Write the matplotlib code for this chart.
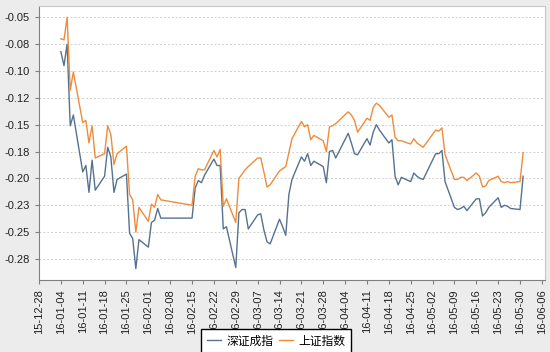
import matplotlib
matplotlib.use("Agg")
import matplotlib.pyplot as plt
import matplotlib.dates as mdates
import pandas as pd

# 交易日
dates = pd.to_datetime(
    ["2016-01-%02d" % d for d in [4, 5, 6, 7, 8, 11, 12, 13, 14, 15, 18, 19, 20, 21, 22, 25, 26, 27, 28, 29]]
    + ["2016-02-%02d" % d for d in [1, 2, 3, 4, 5, 15, 16, 17, 18, 19, 22, 23, 24, 25, 26, 29]]
    + ["2016-03-%02d" % d for d in [1, 2, 3, 4, 7, 8, 9, 10, 11, 14, 15, 16, 17, 18, 21, 22, 23, 24, 25, 28, 29, 30, 31]]
    + ["2016-04-%02d" % d for d in [1, 5, 6, 7, 8, 11, 12, 13, 14, 15, 18, 19, 20, 21, 22, 25, 26, 27, 28, 29]]
    + ["2016-05-%02d" % d for d in [3, 4, 5, 6, 9, 10, 11, 12, 13, 16, 17, 18, 19, 20, 23, 24, 25, 26, 27, 30, 31]]
)

# 深证成指
szcz = [
    -0.082, -0.095, -0.075, -0.151, -0.141, -0.194, -0.188, -0.213, -0.183, -0.211,
    -0.198, -0.171, -0.180, -0.213, -0.201, -0.196, -0.251, -0.256, -0.284, -0.257,
    -0.264, -0.241, -0.239, -0.228, -0.237, -0.237, -0.209, -0.202, -0.204, -0.197,
    -0.182, -0.188, -0.188, -0.247, -0.245, -0.283,
    -0.232, -0.229, -0.229, -0.247, -0.234, -0.233, -0.248, -0.259, -0.261, -0.238,
    -0.245, -0.253, -0.215, -0.201, -0.180, -0.184, -0.177, -0.188, -0.184, -0.189,
    -0.204, -0.175, -0.174,
    -0.181, -0.158, -0.167, -0.177, -0.178, -0.163, -0.169, -0.157, -0.150, -0.155,
    -0.167, -0.164, -0.198, -0.206, -0.199, -0.203, -0.195, -0.198, -0.200, -0.201,
    -0.177, -0.177, -0.174, -0.203, -0.227, -0.229, -0.228, -0.226, -0.230, -0.219,
    -0.219, -0.235, -0.232, -0.227, -0.218, -0.227, -0.225, -0.226, -0.228, -0.229,
    -0.198,
]

# 上证指数
szzs = [
    -0.070, -0.071, -0.050, -0.118, -0.101, -0.148, -0.146, -0.167, -0.151, -0.181,
    -0.177, -0.151, -0.159, -0.187, -0.177, -0.170, -0.215, -0.220, -0.250, -0.227,
    -0.240, -0.224, -0.227, -0.215, -0.220, -0.225, -0.198, -0.191, -0.192, -0.192,
    -0.174, -0.180, -0.173, -0.226, -0.219, -0.241,
    -0.200, -0.196, -0.192, -0.189, -0.181, -0.181, -0.194, -0.208, -0.206, -0.193,
    -0.191, -0.189, -0.176, -0.163, -0.147, -0.152, -0.150, -0.164, -0.160, -0.165,
    -0.175, -0.152, -0.151,
    -0.149, -0.138, -0.141, -0.146, -0.157, -0.144, -0.146, -0.134, -0.130, -0.132,
    -0.143, -0.141, -0.162, -0.165, -0.165, -0.168, -0.163, -0.167, -0.169, -0.171,
    -0.155, -0.156, -0.153, -0.178, -0.201, -0.201, -0.199, -0.199, -0.202, -0.195,
    -0.198, -0.208, -0.207, -0.202, -0.198, -0.203, -0.204, -0.203, -0.204, -0.203,
    -0.176,
]

ytick_vals = [-0.05, -0.075, -0.10, -0.125, -0.15, -0.175, -0.20, -0.225, -0.25, -0.275]
ytick_labels = ["-0.05", "-0.08", "-0.10", "-0.12", "-0.15", "-0.18", "-0.20", "-0.23", "-0.25", "-0.28"]

fig = plt.figure(figsize=(5.5, 3.52), dpi=100, facecolor="#ececec")
ax = fig.add_axes([39 / 550, 1 - 280 / 352, 506 / 550, 274 / 352])
ax.set_facecolor("white")

ax.plot(dates, szcz, color="#56728f", linewidth=1.0, label="深证成指")
ax.plot(dates, szzs, color="#ef8c3b", linewidth=1.0, label="上证指数")

ax.set_xlim(pd.Timestamp("2015-12-28"), pd.Timestamp("2016-06-07"))
ax.set_ylim(-0.2946, -0.0395)

ax.xaxis.set_major_locator(mdates.WeekdayLocator(byweekday=mdates.MO, interval=1))
ax.xaxis.set_major_formatter(mdates.DateFormatter("%y-%m-%d"))
ax.set_yticks(ytick_vals)
ax.set_yticklabels(ytick_labels)

for lab in ax.get_xticklabels():
    lab.set_rotation(90)
ax.tick_params(axis="both", labelsize=8, colors="#222222", length=3, width=0.8)
ax.tick_params(axis="both", color="#808080")
for lab in ax.get_xticklabels() + ax.get_yticklabels():
    lab.set_family(["Liberation Sans", "DejaVu Sans"])

ax.grid(axis="y", color="#cfcfcf", linestyle=(0, (2, 2)), linewidth=0.7)
ax.spines["left"].set_color("#808080")
ax.spines["bottom"].set_color("#808080")
ax.spines["top"].set_color("#c8c8c8")
ax.spines["right"].set_color("#c8c8c8")

leg = fig.legend(loc="center", bbox_to_anchor=(276 / 550, 1 - 341 / 352), ncol=2,
                 frameon=True, fancybox=False, edgecolor="black", framealpha=1,
                 prop={"family": ["Noto Sans CJK SC", "DejaVu Sans"], "size": 8.5},
                 handlelength=1.2, handletextpad=0.45, columnspacing=0.5, borderpad=0.45)
leg.get_frame().set_linewidth(1.0)

fig.savefig("out.png", dpi=100, facecolor=fig.get_facecolor())
